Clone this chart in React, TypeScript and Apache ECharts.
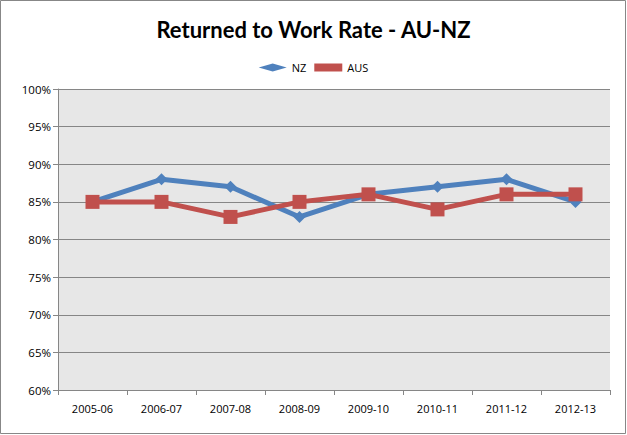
import React, { useEffect, useRef } from "react";
import * as echarts from "echarts";

const categories = ["2005-06", "2006-07", "2007-08", "2008-09", "2009-10", "2010-11", "2011-12", "2012-13"];
const nzValues = [85, 88, 87, 83, 86, 87, 88, 85];
const ausValues = [85, 85, 83, 85, 86, 84, 86, 86];
const titleText = "Returned to Work Rate - AU-NZ";

export default function App() {
  const ref = useRef<HTMLDivElement>(null);
  useEffect(() => {
    if (!ref.current) return;
    const chart = echarts.init(ref.current, null, { renderer: "svg" });
    const font = "'Open Sans', 'Liberation Sans', sans-serif";
    chart.setOption({
      animation: false,
      backgroundColor: "#ffffff",
      title: {
        text: titleText,
        left: "center",
        top: 13,
        textStyle: { fontFamily: "Lato, sans-serif", fontWeight: "bold", fontSize: 22, color: "#000" },
      },
      legend: {
        top: 57,
        left: "center",
        itemWidth: 28,
        itemHeight: 8,
        itemGap: 8,
        lineStyle: { width: 3 },
        textStyle: { fontFamily: font, fontSize: 11, color: "#000" },
        data: [
          { name: "NZ", icon: "diamond" },
          { name: "AUS", icon: "rect" },
        ],
      },
      grid: { left: 58, right: 17, top: 89, bottom: 45, show: true, backgroundColor: "#E7E7E7", borderWidth: 0 },
      xAxis: {
        type: "category",
        data: categories,
        boundaryGap: true,
        axisLine: { lineStyle: { color: "#868686", width: 1 } },
        axisTick: { show: true, alignWithLabel: false, length: 5, lineStyle: { color: "#868686" } },
        axisLabel: { color: "#000", fontFamily: font, fontSize: 11, margin: 13 },
      },
      yAxis: {
        type: "value",
        min: 60,
        max: 100,
        interval: 5,
        axisLine: { show: true, lineStyle: { color: "#868686", width: 1 } },
        axisTick: { show: true, length: 5, lineStyle: { color: "#868686" } },
        axisLabel: { color: "#000", fontFamily: font, fontSize: 11.5, margin: 7, formatter: "{value}%" },
        splitLine: { lineStyle: { color: "#868686", width: 1 } },
      },
      series: [
        {
          name: "NZ",
          type: "line",
          data: nzValues,
          symbol: "diamond",
          symbolSize: 12,
          lineStyle: { color: "#4F81BD", width: 5 },
          itemStyle: { color: "#4F81BD" },
        },
        {
          name: "AUS",
          type: "line",
          data: ausValues,
          symbol: "rect",
          symbolSize: 14,
          lineStyle: { color: "#C0504D", width: 5 },
          itemStyle: { color: "#C0504D" },
        },
      ],
      graphic: [
        {
          type: "rect",
          shape: { x: 0.5, y: 0.5, width: 625, height: 433 },
          style: { fill: "none", stroke: "#878787", lineWidth: 1 },
          silent: true,
        },
      ],
    });
    return () => chart.dispose();
  }, []);
  return <div ref={ref} style={{ position: "fixed", left: 0, top: 0, width: 627, height: 435 }} />;
}
